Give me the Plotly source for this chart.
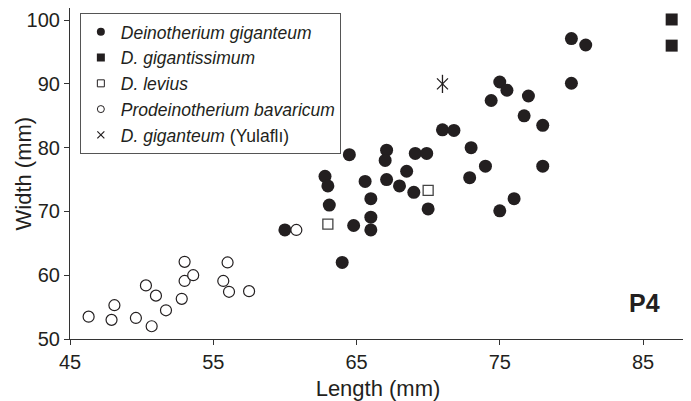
import plotly.graph_objects as go

# D. giganteum (filled circles)
deino_length = [60.0, 62.8, 63.0, 63.1, 64.0, 64.5, 64.8, 65.6, 66.0, 66.0, 66.0,
                67.1, 67.0, 67.1, 68.0, 68.5, 69.0, 69.1, 69.9, 70.0, 71.0, 71.8,
                73.0, 72.9, 74.0, 74.4, 75.0, 75.5, 77.0, 76.7, 78.0, 78.0, 75.0,
                76.0, 80.0, 81.0, 80.0]
deino_width = [67.1, 75.5, 74.0, 71.0, 62.0, 78.9, 67.8, 74.7, 72.0, 69.1, 67.1,
               79.6, 78.0, 75.0, 74.0, 76.3, 73.0, 79.1, 79.1, 70.4, 82.8, 82.7,
               80.0, 75.3, 77.1, 87.4, 90.3, 89.0, 88.1, 85.0, 83.5, 77.1, 70.1,
               72.0, 97.1, 96.1, 90.1]
# D. gigantissimum (filled squares)
gigantissimum_length = [87.0, 87.0]
gigantissimum_width = [100.1, 96.0]
# D. levius (open squares)
levius_length = [63.0, 70.0]
levius_width = [68.0, 73.3]
# Prodeinotherium bavaricum (open circles)
prodeino_length = [46.3, 47.9, 48.1, 49.6, 50.3, 50.7, 51.0, 51.7, 52.8, 53.0,
                   53.0, 53.6, 55.7, 56.0, 56.1, 57.5, 60.8]
prodeino_width = [53.5, 53.0, 55.3, 53.3, 58.4, 52.0, 56.8, 54.5, 56.3, 62.1,
                  59.1, 60.0, 59.1, 62.0, 57.4, 57.5, 67.1]
# D. giganteum (Yulaflı) (asterisk)
yulafli_length = [71.0]
yulafli_width = [90.0]

legend_names = ["<i>Deinotherium giganteum</i>", "<i>D. gigantissimum</i>",
                "<i>D. levius</i>", "<i>Prodeinotherium bavaricum</i>",
                "<i>D. giganteum</i> (Yulaflı)"]

INK = "#231f20"
fig = go.Figure()

def add(xs, ys, symbol, size, color, lw, lcolor=INK):
    fig.add_trace(go.Scatter(x=xs, y=ys, mode="markers", showlegend=False,
                             marker=dict(symbol=symbol, size=size, color=color,
                                         line=dict(width=lw, color=lcolor))))

add(deino_length, deino_width, "circle", 13, INK, 0)
add(gigantissimum_length, gigantissimum_width, "square", 12, INK, 0)
add(levius_length, levius_width, "square", 10, "white", 1.3, "#444")
add(prodeino_length, prodeino_width, "circle", 11, "white", 1.2)
add(yulafli_length, yulafli_width, "x-thin-open", 11, INK, 1.3)
add(yulafli_length, yulafli_width, "line-ns-open", 13, INK, 1.3)

# legend entries
leg_styles = [("circle", 8, INK, 0), ("square", 8, INK, 0),
              ("square", 7, "white", 1), ("circle", 7, "white", 1),
              ("x-thin-open", 7, INK, 1.2)]
for i, (name, (sym, sz, col, lw)) in enumerate(zip(legend_names, leg_styles)):
    fig.add_trace(go.Scatter(x=[None], y=[None], mode="markers", name=name,
                             legendgroup=f"g{i}",
                             marker=dict(symbol=sym, size=sz, color=col,
                                         line=dict(width=lw, color=INK))))

fig.add_annotation(x=0.961, y=0.108, xref="paper", yref="paper", text="<b>P4</b>",
                   showarrow=False, xanchor="right", yanchor="middle",
                   font=dict(size=25, color=INK))
# y-axis title
fig.add_annotation(x=-0.0747, y=0.5, xref="paper", yref="paper", text="Width (mm)",
                   showarrow=False, textangle=-90, xanchor="center", yanchor="middle",
                   font=dict(size=22, color=INK))

axis_common = dict(showline=True, linecolor="#333", linewidth=1.2, mirror=True,
                   ticks="outside", ticklen=5, tickcolor="#333", tickwidth=1.2,
                   showgrid=False, zeroline=False, automargin=False,
                   tickfont=dict(size=20, color=INK))

# page body has an 8px default margin; size figure to fit the window
fig.update_layout(
    width=683, height=393,
    margin=dict(l=62, r=5, t=0, b=62),
    plot_bgcolor="white", paper_bgcolor="white",
    font=dict(family="Liberation Sans, Arial, sans-serif", color=INK),
    xaxis=dict(range=[45, 88], tickvals=[45, 55, 65, 75, 85],
               title=dict(text="Length (mm)", font=dict(size=22), standoff=8),
               **axis_common),
    yaxis=dict(range=[50, 101.9], tickvals=[50, 60, 70, 80, 90, 100],
               **axis_common),
    legend=dict(x=0.016, y=0.985, xanchor="left", yanchor="top",
                bgcolor="white", bordercolor="#555", borderwidth=1,
                font=dict(size=17.5, color=INK), tracegroupgap=0,
                itemwidth=30),
)

fig.write_html("out.html")
